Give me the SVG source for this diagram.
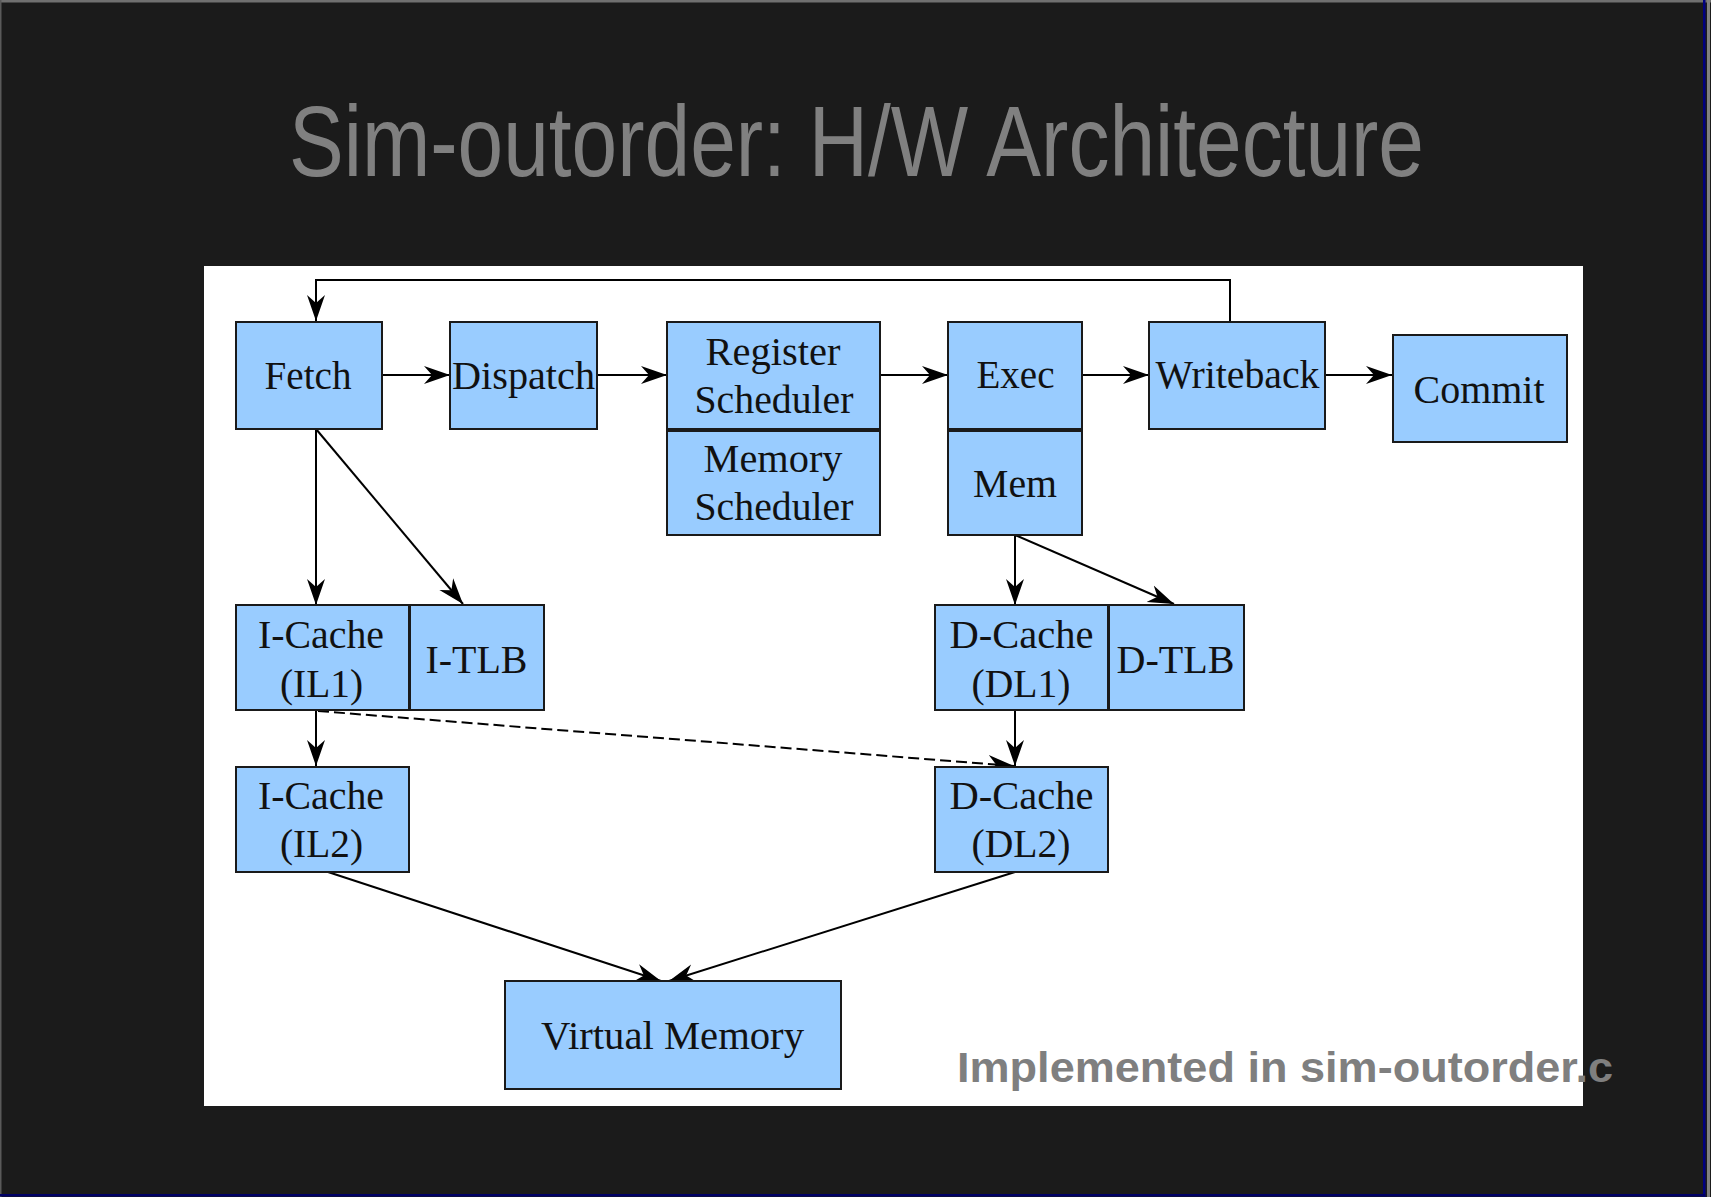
<svg xmlns="http://www.w3.org/2000/svg" width="1711" height="1197" viewBox="0 0 1711 1197">
  <style>
    .box { fill: #99ccff; stroke: #1a1a1a; stroke-width: 2; }
    .lbl { font-family: "Liberation Serif", "Times New Roman", serif; font-size: 39px; fill: #111; text-anchor: middle; }
    .conn { fill: none; stroke: #000; stroke-width: 2; }
    .dash { stroke-dasharray: 11 5; }
  </style>
  <defs>
    <marker id="arr" markerUnits="userSpaceOnUse" markerWidth="27" markerHeight="20" refX="26" refY="9" orient="auto" viewBox="0 0 27 18">
      <path d="M0,0 L26,9 L0,18 L8,9 Z" fill="#000"/>
    </marker>
  </defs>

  <!-- slide background and frame -->
  <rect x="0" y="0" width="1711" height="1197" fill="#1b1b1b"/>
  <rect x="0" y="0" width="1711" height="2.5" fill="#707070"/>
  <rect x="0" y="0" width="1.5" height="1197" fill="#5a5a5a"/>
  <rect x="1703" y="0" width="2.5" height="1197" fill="#000080"/>
  <rect x="0" y="1194" width="1705" height="2.5" fill="#000066"/>
  <rect x="1707" y="0" width="3" height="1197" fill="#808080"/>

  <!-- title -->
  <text x="289" y="176" font-family="Liberation Sans, Arial, sans-serif" font-size="100" fill="#808080" textLength="1135" lengthAdjust="spacingAndGlyphs">Sim-outorder: H/W Architecture</text>

  <!-- white panel -->
  <rect x="204" y="266" width="1379" height="840" fill="#ffffff"/>

  <!-- connectors -->
  <g id="connectors">
    <polyline class="conn" points="1230,322 1230,280 316,280 316,321" marker-end="url(#arr)"/>
    <line class="conn" x1="382" y1="375" x2="450" y2="375" marker-end="url(#arr)"/>
    <line class="conn" x1="597" y1="375" x2="667" y2="375" marker-end="url(#arr)"/>
    <line class="conn" x1="880" y1="375" x2="948" y2="375" marker-end="url(#arr)"/>
    <line class="conn" x1="1082" y1="375" x2="1149" y2="375" marker-end="url(#arr)"/>
    <line class="conn" x1="1325" y1="375" x2="1392" y2="375" marker-end="url(#arr)"/>
    <line class="conn" x1="316" y1="429" x2="316" y2="605" marker-end="url(#arr)"/>
    <line class="conn" x1="316" y1="429" x2="463" y2="604" marker-end="url(#arr)"/>
    <line class="conn" x1="316" y1="710" x2="316" y2="766" marker-end="url(#arr)"/>
    <line class="conn dash" x1="318" y1="711" x2="1014" y2="766" marker-end="url(#arr)"/>
    <line class="conn" x1="1015" y1="535" x2="1015" y2="605" marker-end="url(#arr)"/>
    <line class="conn" x1="1015" y1="535" x2="1174" y2="604" marker-end="url(#arr)"/>
    <line class="conn" x1="1015" y1="710" x2="1015" y2="766" marker-end="url(#arr)"/>
    <line class="conn" x1="328" y1="872" x2="661" y2="981" marker-end="url(#arr)"/>
    <line class="conn" x1="1015" y1="872" x2="669" y2="981" marker-end="url(#arr)"/>
  </g>

  <!-- nodes -->
  <g id="fetch">
    <rect class="box" x="236" y="322" width="146" height="107"/>
    <text class="lbl" x="308" y="389" textLength="87" lengthAdjust="spacingAndGlyphs">Fetch</text>
  </g>
  <g id="dispatch">
    <rect class="box" x="450" y="322" width="147" height="107"/>
    <text class="lbl" x="523.5" y="389" textLength="143" lengthAdjust="spacingAndGlyphs">Dispatch</text>
  </g>
  <g id="register-scheduler">
    <rect class="box" x="667" y="322" width="213" height="107"/>
    <text class="lbl" x="773" y="365" textLength="135" lengthAdjust="spacingAndGlyphs">Register</text>
    <text class="lbl" x="774" y="413" textLength="159" lengthAdjust="spacingAndGlyphs">Scheduler</text>
  </g>
  <g id="memory-scheduler">
    <rect class="box" x="667" y="431" width="213" height="104"/>
    <text class="lbl" x="773" y="472" textLength="139" lengthAdjust="spacingAndGlyphs">Memory</text>
    <text class="lbl" x="774" y="520" textLength="159" lengthAdjust="spacingAndGlyphs">Scheduler</text>
  </g>
  <g id="exec">
    <rect class="box" x="948" y="322" width="134" height="107"/>
    <text class="lbl" x="1015.5" y="388" textLength="78" lengthAdjust="spacingAndGlyphs">Exec</text>
  </g>
  <g id="mem">
    <rect class="box" x="948" y="431" width="134" height="104"/>
    <text class="lbl" x="1015" y="497" textLength="84" lengthAdjust="spacingAndGlyphs">Mem</text>
  </g>
  <g id="writeback">
    <rect class="box" x="1149" y="322" width="176" height="107"/>
    <text class="lbl" x="1237.5" y="388" textLength="164" lengthAdjust="spacingAndGlyphs">Writeback</text>
  </g>
  <g id="commit">
    <rect class="box" x="1393" y="335" width="174" height="107"/>
    <text class="lbl" x="1479" y="403" textLength="131" lengthAdjust="spacingAndGlyphs">Commit</text>
  </g>
  <g id="il1">
    <rect class="box" x="236" y="605" width="173" height="105"/>
    <text class="lbl" x="321" y="648" textLength="126" lengthAdjust="spacingAndGlyphs">I-Cache</text>
    <text class="lbl" x="321.5" y="697" textLength="83" lengthAdjust="spacingAndGlyphs">(IL1)</text>
  </g>
  <g id="itlb">
    <rect class="box" x="410" y="605" width="134" height="105"/>
    <text class="lbl" x="476.5" y="673" textLength="102" lengthAdjust="spacingAndGlyphs">I-TLB</text>
  </g>
  <g id="il2">
    <rect class="box" x="236" y="767" width="173" height="105"/>
    <text class="lbl" x="321" y="809" textLength="126" lengthAdjust="spacingAndGlyphs">I-Cache</text>
    <text class="lbl" x="321.5" y="857" textLength="83" lengthAdjust="spacingAndGlyphs">(IL2)</text>
  </g>
  <g id="dl1">
    <rect class="box" x="935" y="605" width="173" height="105"/>
    <text class="lbl" x="1021.5" y="648" textLength="144" lengthAdjust="spacingAndGlyphs">D-Cache</text>
    <text class="lbl" x="1021" y="697" textLength="99" lengthAdjust="spacingAndGlyphs">(DL1)</text>
  </g>
  <g id="dtlb">
    <rect class="box" x="1109" y="605" width="135" height="105"/>
    <text class="lbl" x="1175.5" y="673" textLength="118" lengthAdjust="spacingAndGlyphs">D-TLB</text>
  </g>
  <g id="dl2">
    <rect class="box" x="935" y="767" width="173" height="105"/>
    <text class="lbl" x="1021.5" y="809" textLength="144" lengthAdjust="spacingAndGlyphs">D-Cache</text>
    <text class="lbl" x="1021" y="857" textLength="99" lengthAdjust="spacingAndGlyphs">(DL2)</text>
  </g>
  <g id="virtual-memory">
    <rect class="box" x="505" y="981" width="336" height="108"/>
    <text class="lbl" x="672.5" y="1049" textLength="263" lengthAdjust="spacingAndGlyphs">Virtual Memory</text>
  </g>

  <!-- footer note -->
  <text x="957" y="1082" font-family="Liberation Sans, Arial, sans-serif" font-weight="bold" font-size="42" fill="#7f7f7f" textLength="656" lengthAdjust="spacingAndGlyphs">Implemented in sim-outorder.c</text>
</svg>
